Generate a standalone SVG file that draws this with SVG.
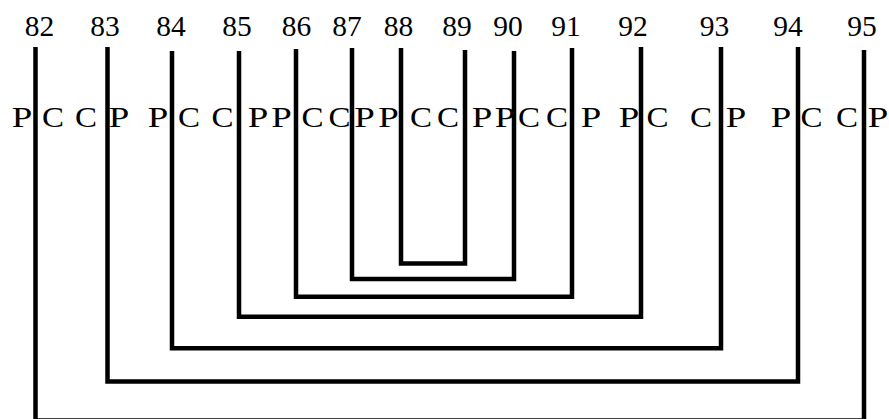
<svg xmlns="http://www.w3.org/2000/svg" width="889" height="419" viewBox="0 0 889 419">
<style>
.num{font-family:"Liberation Serif","Times New Roman",serif;font-size:29.5px;text-anchor:middle;fill:#000}
.let{font-family:"Liberation Serif","Times New Roman",serif;font-size:30px;text-anchor:middle;fill:#000}
.arc{fill:none;stroke:#000;stroke-width:4.5;stroke-linejoin:miter;stroke-linecap:butt}
</style>
<rect width="889" height="419" fill="#fff"/>
<g id="connectors">
<path class="arc" d="M35.5,47 V420.5 H864 V50"/>
<path class="arc" d="M107.5,47 V381.5 H798 V47"/>
<path class="arc" d="M172,51 V348.3 H721 V47"/>
<path class="arc" d="M239,51 V316.7 H641 V47"/>
<path class="arc" d="M296,49 V296.7 H572 V48"/>
<path class="arc" d="M352,48 V279 H514 V51"/>
<path class="arc" d="M401,48 V263.5 H465 V50"/>
</g>
<g id="n82"><text class="num" x="39.5" y="36">82</text><text class="let" x="22" y="127" textLength="20.5" lengthAdjust="spacingAndGlyphs">P</text><text class="let" x="53" y="127" textLength="22" lengthAdjust="spacingAndGlyphs">C</text></g>
<g id="n83"><text class="num" x="105" y="36">83</text><text class="let" x="86" y="127" textLength="22" lengthAdjust="spacingAndGlyphs">C</text><text class="let" x="119" y="127" textLength="20.5" lengthAdjust="spacingAndGlyphs">P</text></g>
<g id="n84"><text class="num" x="171" y="36">84</text><text class="let" x="158" y="127" textLength="20.5" lengthAdjust="spacingAndGlyphs">P</text><text class="let" x="189" y="127" textLength="22" lengthAdjust="spacingAndGlyphs">C</text></g>
<g id="n85"><text class="num" x="237" y="36">85</text><text class="let" x="222.5" y="127" textLength="22" lengthAdjust="spacingAndGlyphs">C</text><text class="let" x="258" y="127" textLength="20.5" lengthAdjust="spacingAndGlyphs">P</text></g>
<g id="n86"><text class="num" x="296.5" y="36">86</text><text class="let" x="281.5" y="127" textLength="20.5" lengthAdjust="spacingAndGlyphs">P</text><text class="let" x="312.5" y="127" textLength="22" lengthAdjust="spacingAndGlyphs">C</text></g>
<g id="n87"><text class="num" x="347" y="36">87</text><text class="let" x="339.5" y="127" textLength="22" lengthAdjust="spacingAndGlyphs">C</text><text class="let" x="364.5" y="127" textLength="20.5" lengthAdjust="spacingAndGlyphs">P</text></g>
<g id="n88"><text class="num" x="398.5" y="36">88</text><text class="let" x="388.5" y="127" textLength="20.5" lengthAdjust="spacingAndGlyphs">P</text><text class="let" x="421" y="127" textLength="22" lengthAdjust="spacingAndGlyphs">C</text></g>
<g id="n89"><text class="num" x="457" y="36">89</text><text class="let" x="448" y="127" textLength="22" lengthAdjust="spacingAndGlyphs">C</text><text class="let" x="482" y="127" textLength="20.5" lengthAdjust="spacingAndGlyphs">P</text></g>
<g id="n90"><text class="num" x="508" y="36">90</text><text class="let" x="505" y="127" textLength="20.5" lengthAdjust="spacingAndGlyphs">P</text><text class="let" x="529" y="127" textLength="22" lengthAdjust="spacingAndGlyphs">C</text></g>
<g id="n91"><text class="num" x="566" y="36">91</text><text class="let" x="557" y="127" textLength="22" lengthAdjust="spacingAndGlyphs">C</text><text class="let" x="591" y="127" textLength="20.5" lengthAdjust="spacingAndGlyphs">P</text></g>
<g id="n92"><text class="num" x="633" y="36">92</text><text class="let" x="629" y="127" textLength="20.5" lengthAdjust="spacingAndGlyphs">P</text><text class="let" x="657.5" y="127" textLength="22" lengthAdjust="spacingAndGlyphs">C</text></g>
<g id="n93"><text class="num" x="714.5" y="36">93</text><text class="let" x="701" y="127" textLength="22" lengthAdjust="spacingAndGlyphs">C</text><text class="let" x="736" y="127" textLength="20.5" lengthAdjust="spacingAndGlyphs">P</text></g>
<g id="n94"><text class="num" x="788" y="36">94</text><text class="let" x="781" y="127" textLength="20.5" lengthAdjust="spacingAndGlyphs">P</text><text class="let" x="811.5" y="127" textLength="22" lengthAdjust="spacingAndGlyphs">C</text></g>
<g id="n95"><text class="num" x="862" y="36">95</text><text class="let" x="847" y="127" textLength="22" lengthAdjust="spacingAndGlyphs">C</text><text class="let" x="878" y="127" textLength="20.5" lengthAdjust="spacingAndGlyphs">P</text></g>
</svg>
